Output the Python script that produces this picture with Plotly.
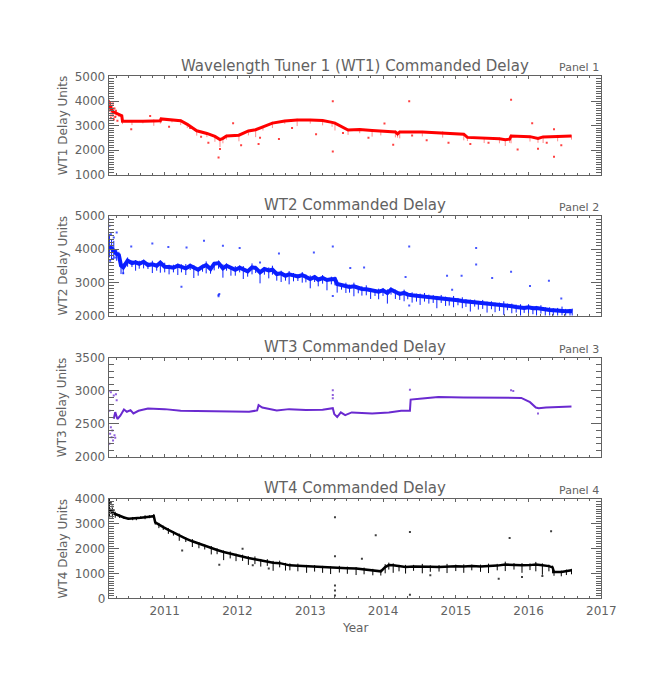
import plotly.graph_objects as go

# ---- WT1 (panel 1) ----
wt1_year = [2010.24, 2010.26, 2010.28, 2010.30, 2010.33, 2010.37, 2010.41, 2010.42, 2010.55, 2010.70,
            2010.85, 2010.94, 2010.95, 2011.10, 2011.22, 2011.31, 2011.44, 2011.58, 2011.69, 2011.76,
            2011.80, 2011.85, 2012.02, 2012.15, 2012.25, 2012.35, 2012.48, 2012.65, 2012.82, 2013.00,
            2013.17, 2013.30, 2013.34, 2013.52, 2013.68, 2013.85, 2013.97, 2014.17, 2014.20, 2014.23,
            2014.54, 2014.82, 2015.11, 2015.16, 2015.39, 2015.60, 2015.68, 2015.74, 2015.76, 2016.02,
            2016.13, 2016.20, 2016.40, 2016.59]
wt1_delay = [3850, 3700, 3600, 3550, 3500, 3450, 3400, 3180, 3170, 3180,
             3190, 3200, 3270, 3230, 3200, 3050, 2790, 2680, 2560, 2430,
             2480, 2580, 2610, 2780, 2830, 2950, 3100, 3190, 3230, 3230,
             3210, 3130, 3100, 2820, 2840, 2800, 2780, 2740, 2660, 2740,
             2740, 2710, 2650, 2520, 2490, 2460, 2420, 2450, 2580, 2550,
             2480, 2540, 2560, 2580]
wt1_up = [200, 250, 150, 200, 100, 60, 50, 40, 50, 40,
          60, 40, 50, 40, 60, 40, 50, 40, 60, 50,
          40, 50, 60, 40, 50, 40, 60, 40, 50, 40,
          60, 40, 50, 60, 40, 50, 40, 60, 40, 50,
          40, 60, 40, 50, 40, 60, 40, 50, 60, 40,
          50, 40, 60, 40]
wt1_down = [300, 400, 250, 300, 150, 100, 80, 120, 150, 90,
            200, 120, 150, 100, 180, 150, 200, 150, 220, 300,
            200, 150, 250, 180, 300, 150, 200, 120, 250, 150,
            200, 180, 300, 200, 150, 250, 180, 220, 150, 260,
            180, 200, 250, 150, 200, 180, 250, 150, 300, 200,
            180, 250, 200, 150]
wt1_pts_year = [2010.23, 2010.24, 2010.25, 2010.26, 2010.27, 2010.28, 2010.29, 2010.30, 2010.31, 2010.32,
                2010.33, 2010.35, 2010.54, 2010.80, 2011.06, 2011.35, 2011.50, 2011.60, 2011.74, 2011.76,
                2011.94, 2012.05, 2012.29, 2012.31, 2012.57, 2012.75, 2013.08, 2013.31, 2013.31, 2013.45,
                2013.80, 2014.02, 2014.14, 2014.36, 2014.40, 2014.60, 2014.90, 2015.20, 2015.45, 2015.76,
                2015.85, 2016.05, 2016.13, 2016.25, 2016.35, 2016.35, 2016.45]
wt1_pts_delay = [4000, 3700, 3950, 3300, 3800, 3500, 3900, 3250, 3700, 3350,
                 3600, 3200, 2850, 3390, 2950, 2900, 2550, 2300, 1700, 2050,
                 3100, 2200, 2250, 2500, 2450, 2900, 2650, 3990, 1950, 2700,
                 2500, 3080, 2220, 3990, 2600, 2400, 2300, 2250, 2300, 4050,
                 2030, 3100, 2060, 2300, 1730, 2850, 2200]

# ---- WT2 (panel 2) ----
wt2_year = [2010.24, 2010.27, 2010.30, 2010.34, 2010.37, 2010.40, 2010.43, 2010.49, 2010.55, 2010.60,
            2010.65, 2010.71, 2010.77, 2010.83, 2010.89, 2010.94, 2011.00, 2011.06, 2011.12, 2011.18,
            2011.23, 2011.29, 2011.35, 2011.40, 2011.46, 2011.52, 2011.57, 2011.63, 2011.68, 2011.74,
            2011.80, 2011.85, 2011.91, 2011.97, 2012.03, 2012.08, 2012.14, 2012.20, 2012.25, 2012.31,
            2012.37, 2012.43, 2012.48, 2012.54, 2012.60, 2012.66, 2012.71, 2012.77, 2012.83, 2012.89,
            2012.94, 2013.00, 2013.06, 2013.11, 2013.17, 2013.23, 2013.29, 2013.34, 2013.37, 2013.43,
            2013.49, 2013.54, 2013.60, 2013.66, 2013.71, 2013.77, 2013.83, 2013.89, 2013.94, 2014.00,
            2014.06, 2014.11, 2014.17, 2014.23, 2014.29, 2014.34, 2014.40, 2014.46, 2014.51, 2014.57,
            2014.63, 2014.69, 2014.74, 2014.80, 2014.86, 2014.91, 2014.97, 2015.03, 2015.09, 2015.14,
            2015.20, 2015.26, 2015.31, 2015.37, 2015.43, 2015.49, 2015.54, 2015.60, 2015.66, 2015.71,
            2015.77, 2015.83, 2015.89, 2015.94, 2016.00, 2016.06, 2016.11, 2016.17, 2016.23, 2016.29,
            2016.34, 2016.40, 2016.46, 2016.51, 2016.57, 2016.60]
wt2_delay = [4100, 4000, 3950, 3850, 3820, 3500, 3450, 3650, 3580, 3600,
             3560, 3620, 3520, 3540, 3500, 3590, 3470, 3460, 3440, 3500,
             3460, 3420, 3500, 3430, 3380, 3470, 3520, 3400, 3560, 3580,
             3420, 3500, 3430, 3380, 3440, 3400, 3330, 3450, 3430, 3300,
             3400, 3360, 3380, 3250, 3270, 3200, 3240, 3210, 3180, 3220,
             3160, 3100, 3160, 3080, 3130, 3070, 3090, 3100, 2950, 2920,
             2900, 2860, 2880, 2820, 2800, 2790, 2760, 2730, 2720, 2760,
             2680, 2780, 2700, 2650, 2680, 2630, 2610, 2590, 2600, 2570,
             2560, 2540, 2530, 2520, 2500, 2480, 2500, 2460, 2440, 2430,
             2400, 2410, 2380, 2370, 2350, 2340, 2330, 2320, 2320, 2300,
             2280, 2260, 2240, 2230, 2250, 2220, 2230, 2200, 2180, 2170,
             2160, 2140, 2150, 2130, 2140, 2130]
wt2_up = [350, 300, 300, 150, 100, 150, 120, 100, 80, 70,
          90, 60, 80, 110, 70, 60, 120, 70, 90, 60,
          80, 130, 60, 90, 70, 60, 110, 70, 60, 80,
          120, 70, 60, 110, 70, 90, 60, 120, 70, 80,
          60, 90, 120, 70, 80, 60, 100, 70, 60, 90,
          80, 110, 60, 70, 90, 60, 80, 70, 100, 60,
          90, 70, 110, 60, 80, 120, 70, 60, 90, 70,
          110, 60, 80, 70, 100, 60, 90, 70, 60, 110,
          70, 80, 60, 100, 70, 60, 90, 70, 110, 60,
          80, 70, 60, 100, 70, 90, 60, 70, 110, 60,
          80, 70, 100, 60, 90, 70, 60, 110, 70, 80,
          60, 90, 120, 70, 60, 80]
wt2_down = [350, 300, 250, 200, 150, 250, 200, 180, 120, 250,
            150, 200, 120, 260, 150, 300, 170, 220, 140, 280,
            160, 200, 130, 300, 180, 150, 250, 140, 200, 170,
            280, 150, 230, 180, 140, 300, 160, 210, 150, 330,
            170, 240, 150, 200, 260, 150, 300, 180, 140, 230,
            160, 280, 150, 200, 170, 310, 150, 190, 260, 140,
            220, 170, 300, 150, 200, 180, 260, 140, 230, 170,
            320, 150, 200, 180, 250, 140, 220, 170, 280, 150,
            200, 160, 310, 140, 210, 180, 250, 150, 220, 170,
            280, 140, 200, 170, 260, 150, 230, 180, 300, 140,
            210, 170, 260, 150, 220, 180, 300, 140, 210, 260,
            170, 230, 150, 280, 200, 160]
wt2_pts_year = [2010.23, 2010.24, 2010.25, 2010.26, 2010.28, 2010.30, 2010.32, 2010.34, 2010.35, 2010.43,
                2010.54, 2010.83, 2011.05, 2011.23, 2011.30, 2011.54, 2011.74, 2011.74, 2011.75, 2011.80,
                2012.03, 2012.31, 2012.57, 2013.05, 2013.31, 2013.31, 2013.55, 2013.74, 2014.31, 2014.36,
                2014.36, 2014.88, 2014.95, 2015.08, 2015.28, 2015.28, 2015.50, 2015.76, 2016.02, 2016.28,
                2016.45]
wt2_pts_delay = [4900, 4700, 3650, 4450, 3700, 4350, 3750, 4500, 3850, 3270,
                 4080, 4170, 4060, 2870, 4050, 4250, 2620, 2580, 2650, 4100,
                 4030, 3600, 3870, 3900, 4080, 2590, 3430, 3450, 3160, 4080,
                 2300, 3200, 2780, 3200, 4030, 3540, 3130, 3320, 2890, 3050,
                 2510]

# ---- WT3 (panel 3) ----
wt3_year = [2010.30, 2010.32, 2010.35, 2010.39, 2010.44, 2010.48, 2010.53, 2010.57, 2010.64, 2010.77,
            2011.00, 2011.22, 2011.44, 2011.89, 2012.16, 2012.27, 2012.29, 2012.34, 2012.50, 2012.54,
            2012.71, 2012.94, 2013.17, 2013.31, 2013.33, 2013.37, 2013.42, 2013.48, 2013.57, 2013.85,
            2014.08, 2014.25, 2014.37, 2014.38, 2014.54, 2014.76, 2015.11, 2015.68, 2015.90, 2016.02,
            2016.10, 2016.14, 2016.24, 2016.59]
wt3_delay = [2580, 2680, 2575, 2625, 2720, 2685, 2710, 2660, 2700, 2735,
             2725, 2700, 2695, 2695, 2685, 2705, 2785, 2750, 2715, 2705,
             2725, 2710, 2715, 2740, 2650, 2605, 2675, 2635, 2675, 2660,
             2675, 2700, 2700, 2870, 2885, 2910, 2900, 2900, 2895, 2830,
             2750, 2740, 2750, 2765]
wt3_pts_year = [2010.23, 2010.24, 2010.24, 2010.25, 2010.26, 2010.26, 2010.27, 2010.28, 2010.29, 2010.30,
                2010.31, 2010.32, 2010.33, 2010.34, 2013.31, 2013.31, 2013.31, 2014.37, 2015.76, 2015.79,
                2016.13]
wt3_pts_delay = [3000, 2700, 2200, 2350, 2450, 2980, 2300, 2400, 2250, 2930,
                 2330, 2290, 2950, 2860, 3010, 2940, 2890, 3020, 3010, 3000,
                 2660]

# ---- WT4 (panel 4) ----
wt4_year = [2010.24, 2010.28, 2010.32, 2010.38, 2010.44, 2010.50, 2010.56, 2010.61, 2010.67, 2010.73,
            2010.79, 2010.85, 2010.87, 2010.92, 2010.98, 2011.05, 2011.12, 2011.20, 2011.29, 2011.38,
            2011.47, 2011.55, 2011.64, 2011.72, 2011.81, 2011.90, 2011.98, 2012.07, 2012.15, 2012.24,
            2012.32, 2012.41, 2012.49, 2012.58, 2012.66, 2012.72, 2012.83, 2012.95, 2013.06, 2013.17,
            2013.28, 2013.40, 2013.51, 2013.63, 2013.74, 2013.86, 2013.97, 2014.03, 2014.08, 2014.14,
            2014.22, 2014.31, 2014.42, 2014.54, 2014.65, 2014.77, 2014.88, 2015.00, 2015.11, 2015.22,
            2015.34, 2015.45, 2015.57, 2015.68, 2015.80, 2015.91, 2016.02, 2016.10, 2016.19, 2016.28,
            2016.33, 2016.35, 2016.45, 2016.52, 2016.59]
wt4_delay = [3600, 3450, 3400, 3320, 3260, 3210, 3220, 3210, 3250, 3270,
             3290, 3310, 3060, 2960, 2870, 2760, 2650, 2530, 2410, 2300,
             2200, 2110, 2030, 1950, 1870, 1800, 1740, 1680, 1630, 1580,
             1530, 1490, 1440, 1420, 1370, 1330, 1310, 1290, 1260, 1240,
             1230, 1220, 1210, 1200, 1160, 1130, 1090, 1260, 1340, 1330,
             1290, 1260, 1280, 1290, 1270, 1260, 1280, 1290, 1280, 1300,
             1280, 1290, 1320, 1360, 1340, 1330, 1340, 1360, 1330, 1300,
             1250, 1060, 1060, 1080, 1130]
wt4_up = [400, 200, 90, 60, 50, 40, 60, 50, 60, 80,
          60, 90, 60, 80, 60, 70, 60, 80, 60, 90,
          70, 60, 80, 70, 60, 90, 60, 80, 70, 110,
          60, 90, 70, 100, 60, 80, 90, 60, 80, 70,
          60, 90, 70, 60, 80, 60, 70, 120, 100, 80,
          60, 90, 70, 100, 60, 80, 110, 70, 90, 60,
          80, 110, 70, 120, 80, 90, 70, 110, 80, 60,
          70, 60, 60, 80, 60]
wt4_down = [300, 200, 150, 80, 60, 50, 70, 60, 50, 80,
            60, 80, 90, 130, 110, 160, 120, 210, 140, 230,
            180, 140, 260, 170, 330, 190, 240, 170, 280, 200,
            250, 180, 330, 170, 250, 200, 220, 260, 180, 210,
            250, 180, 220, 260, 190, 200, 170, 250, 180, 300,
            200, 260, 170, 280, 200, 180, 260, 190, 250, 170,
            210, 270, 190, 260, 180, 300, 200, 270, 380, 210,
            240, 150, 170, 140, 160]
wt4_pts_year = [2010.23, 2010.24, 2010.26, 2010.28, 2010.30, 2011.24, 2011.75, 2012.07, 2012.21, 2012.43,
                2013.34, 2013.34, 2013.34, 2013.34, 2013.34, 2013.34, 2013.71, 2013.90, 2014.37, 2014.37,
                2014.65, 2015.59, 2015.74, 2015.91, 2016.19, 2016.31]
wt4_pts_delay = [4000, 3300, 3850, 3700, 3550, 1930, 1360, 2000, 1330, 1200,
                 4010, 3270, 1700, 520, 320, 120, 1600, 2540, 2670, 150,
                 930, 790, 2430, 860, 900, 2700]

years = [2011, 2012, 2013, 2014, 2015, 2016, 2017]
titles = ["Wavelength Tuner 1 (WT1) Commanded Delay", "WT2 Commanded Delay",
          "WT3 Commanded Delay", "WT4 Commanded Delay"]
ytitles = ["WT1 Delay Units", "WT2 Delay Units", "WT3 Delay Units", "WT4 Delay Units"]
panel_labels = ["Panel 1", "Panel 2", "Panel 3", "Panel 4"]

W, H = 665, 699
left, right = 103, 607
tops = [62.7, 205, 350, 494]
bottoms = [163, 306.7, 451, 595.3]
yranges = [[1000, 5000], [2000, 5000], [2000, 3500], [0, 4000]]
ydticks = [1000, 1000, 500, 1000]
colors = ["#ff0000", "#0a1eff", "#6a2ad0", "#000000"]
err_colors = ["rgba(255,0,0,0.45)", "#0a1eff", "#6a2ad0", "#000000"]
font = "DejaVu Sans"
grey = "#626262"

series = [
    (wt1_year, wt1_delay, wt1_up, wt1_down, wt1_pts_year, wt1_pts_delay, 3),
    (wt2_year, wt2_delay, wt2_up, wt2_down, wt2_pts_year, wt2_pts_delay, 4),
    (wt3_year, wt3_delay, None, None, wt3_pts_year, wt3_pts_delay, 2),
    (wt4_year, wt4_delay, wt4_up, wt4_down, wt4_pts_year, wt4_pts_delay, 2.5),
]

fig = go.Figure()
for i, (xs, ys, up, down, px, py, lw) in enumerate(series):
    ax = "" if i == 0 else str(i + 1)
    err = None
    if up is not None:
        err = dict(type="data", symmetric=False, array=up, arrayminus=down,
                   thickness=1, width=0, color=err_colors[i])
    fig.add_trace(go.Scatter(x=xs, y=ys, mode="lines", line=dict(color=colors[i], width=lw),
                             error_y=err, xaxis="x" + ax, yaxis="y" + ax, showlegend=False))
    fig.add_trace(go.Scatter(x=px, y=py, mode="markers",
                             marker=dict(color=colors[i], size=2, symbol="square", opacity=0.75),
                             xaxis="x" + ax, yaxis="y" + ax, showlegend=False))

layout = dict(width=W, height=H, margin=dict(l=0, r=0, t=0, b=0),
              paper_bgcolor="white", plot_bgcolor="white",
              font=dict(family=font, color=grey, size=12), annotations=[])
for i in range(4):
    ax = "" if i == 0 else str(i + 1)
    layout["xaxis" + ax] = dict(
        domain=[left / W, right / W], anchor="y" + ax, range=[2010.23, 2017.0],
        tickvals=years, tickformat="d", ticks="inside", ticklen=3, tickcolor=grey,
        showline=True, linecolor=grey, linewidth=1, mirror="ticks",
        showgrid=False, zeroline=False, showticklabels=(i == 3),
        ticklabelstandoff=1, tickfont=dict(size=12, color=grey),
        minor=dict(dtick=1 / 6, ticks="inside", ticklen=2, tickcolor=grey, showgrid=False))
    layout["yaxis" + ax] = dict(
        domain=[1 - bottoms[i] / H, 1 - tops[i] / H], anchor="x" + ax, range=yranges[i],
        dtick=ydticks[i], tick0=0, ticks="inside", ticklen=10, tickcolor=grey,
        showline=True, linecolor=grey, linewidth=1, mirror="ticks",
        showgrid=False, zeroline=False, tickfont=dict(size=12, color=grey),
        minor=dict(dtick=100, ticks="inside", ticklen=5, tickcolor=grey, showgrid=False))
    layout["annotations"].append(dict(
        text=titles[i], x=(left + right) / 2 / W, y=1 - (tops[i] - 11) / H, xref="paper", yref="paper",
        xanchor="center", yanchor="middle", showarrow=False, font=dict(size=15, color=grey)))
    layout["annotations"].append(dict(
        text=panel_labels[i], x=right / W, y=1 - (tops[i] - 9) / H, xref="paper", yref="paper",
        xanchor="right", yanchor="middle", showarrow=False, font=dict(size=11, color=grey)))
    layout["annotations"].append(dict(
        text=ytitles[i], x=56 / W, y=1 - (tops[i] + bottoms[i]) / 2 / H, xref="paper", yref="paper",
        xanchor="center", yanchor="middle", textangle=-90, showarrow=False,
        font=dict(size=12, color=grey)))
layout["annotations"].append(dict(
    text="Year", x=(left + right) / 2 / W, y=1 - 626 / H, xref="paper", yref="paper",
    xanchor="center", yanchor="middle", showarrow=False, font=dict(size=12, color=grey)))

fig.update_layout(**layout)
fig.write_html("out.html")
